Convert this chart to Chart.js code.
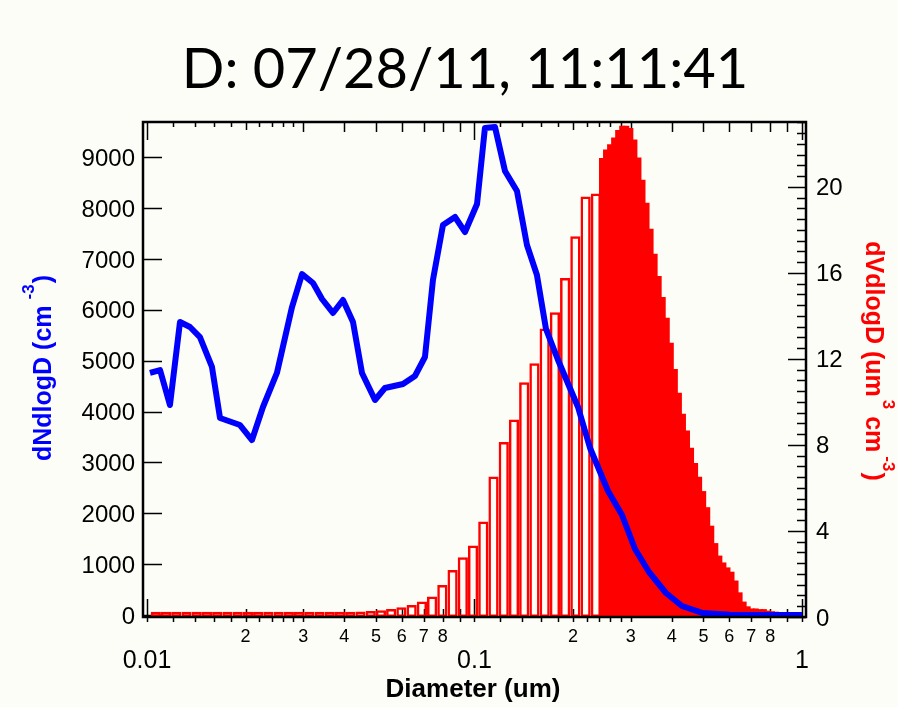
<!DOCTYPE html>
<html>
<head>
<meta charset="utf-8">
<title>D: 07/28/11, 11:11:41</title>
<script src="https://cdn.jsdelivr.net/npm/chart.js@4.4.1/dist/chart.umd.min.js"></script>
<style>
  html, body { margin: 0; padding: 0; background: #fdfdf7; }
  canvas { display: block; }
</style>
</head>
<body>
<canvas id="sizeChart" width="898" height="707"></canvas>
<script>
// number distribution, dN/dlogD (cm-3), blue trace on the left axis
const numDiam = [
  0.01021, 0.01096, 0.01175, 0.01261, 0.01353, 0.01451, 0.01579, 0.01671, 0.01923, 0.02092,
  0.02260, 0.02493, 0.02772, 0.02974, 0.03213, 0.03423, 0.03697, 0.03967, 0.04256, 0.04534,
  0.04968, 0.05328, 0.06048, 0.06580, 0.07059, 0.07467, 0.08012, 0.08719, 0.09354, 0.1018,
  0.1076, 0.1155, 0.1239, 0.1348, 0.1446, 0.1551, 0.1653, 0.1799, 0.2070, 0.2253,
  0.2557, 0.2821, 0.3091, 0.3410, 0.3843, 0.4300, 0.4984, 0.6027, 1.0
];
const numConc = [
  4759, 4817, 4129, 5761, 5663, 5466, 4877, 3874, 3736, 3441,
  4090, 4759, 6056, 6705, 6528, 6214, 5939, 6194, 5761, 4759,
  4228, 4464, 4543, 4700, 5073, 6587, 7669, 7826, 7531, 8081,
  9576, 9596, 8731, 8337, 7275, 6685, 5624, 5014, 4090, 3284,
  2438, 1966, 1298, 846, 433, 177, 39, 5, 0
];

// volume distribution, dV/dlogD (um3 cm-3), small-size bins (open bars)
const volDiamSmall = [
  0.010639, 0.011433, 0.012286, 0.013203, 0.014188, 0.015246, 0.016383, 0.017605, 0.018919, 0.020330,
  0.021847, 0.023477, 0.025228, 0.027110, 0.029132, 0.031306, 0.033641, 0.036151, 0.038848, 0.041746,
  0.044860, 0.048207, 0.051803, 0.055668, 0.059820, 0.064283, 0.069079, 0.074232, 0.079770, 0.085721,
  0.092116, 0.098988, 0.106372, 0.114308, 0.122835, 0.131999, 0.141846, 0.152428, 0.163799, 0.176018,
  0.189149, 0.203260, 0.218423, 0.234717
];
const volSmall = [
  0.24, 0.24, 0.24, 0.24, 0.24, 0.24, 0.24, 0.24, 0.24, 0.24,
  0.24, 0.24, 0.24, 0.24, 0.24, 0.24, 0.24, 0.24, 0.24, 0.24,
  0.26, 0.28, 0.31, 0.37, 0.45, 0.56, 0.72, 0.95, 1.49, 2.19,
  2.78, 3.33, 4.44, 6.53, 8.14, 9.19, 10.92, 11.80, 13.42, 14.17,
  15.76, 17.71, 19.55, 19.70
];

// volume distribution, large-size bins (solid bars)
const volDiamLarge = [
  0.24511, 0.25218, 0.25946, 0.26694, 0.27464, 0.28257, 0.29072, 0.29911, 0.30774, 0.31662,
  0.32575, 0.33515, 0.34482, 0.35477, 0.36500, 0.37553, 0.38637, 0.39752, 0.40899, 0.42079,
  0.43293, 0.44542, 0.45827, 0.47149, 0.48509, 0.49909, 0.51349, 0.52830, 0.54354, 0.55922,
  0.57536, 0.59196, 0.60904, 0.62661, 0.64469, 0.66329, 0.68242, 0.70211, 0.72237, 0.74321,
  0.76465, 0.78671, 0.80941, 0.83276, 0.85679, 0.88151, 0.90694, 0.93311, 0.96003
];
const volLarge = [
  21.30, 21.70, 21.94, 22.25, 22.60, 22.80, 22.80, 22.69, 22.16, 21.32,
  20.29, 19.22, 18.01, 16.85, 15.81, 14.84, 13.87, 12.71, 11.49, 10.38,
  9.40, 8.63, 7.82, 7.12, 6.48, 5.81, 5.06, 4.20, 3.39, 2.81,
  2.49, 2.26, 2.06, 1.65, 1.10, 0.67, 0.45, 0.35, 0.35, 0.32,
  0.32, 0.25, 0.22, 0.20, 0.18, 0.16, 0.15, 0.14, 0.13
];

// axis labels
const xMajorTicks = [0.01, 0.1, 1];
const xMajorLabels = ['0.01', '0.1', '1'];
const xMinorDigits = [2, 3, 4, 5, 6, 7, 8];
const leftTicks = [0, 1000, 2000, 3000, 4000, 5000, 6000, 7000, 8000, 9000];
const rightTicks = [0, 4, 8, 12, 16, 20];

const PAGE_BG = '#fdfdf7';
const BLUE = '#0000ff';
const RED = '#ff0000';
const SANS = '"Liberation Sans", Arial, sans-serif';

const X_MIN = 0.009723;
const X_MAX = 1.0285;

function pairs(xs, ys) {
  return xs.map((x, i) => ({ x: x, y: ys[i] }));
}

// the bar axes only place bars, keep their tick list out of the width calc
function logAxis() {
  return {
    type: 'logarithmic',
    position: 'bottom',
    min: X_MIN,
    max: X_MAX,
    offset: false,
    display: false,
    afterBuildTicks: function (scale) {
      scale.ticks = [{ value: X_MIN }, { value: X_MAX }];
    }
  };
}

function logTickMarks() {
  const marks = [];
  [0.01, 0.1].forEach(function (dec) {
    marks.push({ v: dec, kind: 'major' });
    for (let m = 2; m <= 9; m++) marks.push({ v: dec * m, kind: m === 2 ? 'two' : 'minor' });
    [1.2, 1.4, 1.6, 1.8, 2.2, 2.4, 2.6, 2.8].forEach(function (m) {
      marks.push({ v: dec * m, kind: 'sub' });
    });
  });
  marks.push({ v: 1, kind: 'major' });
  return marks;
}

function drawRichText(c, parts, x, y, angle, color) {
  c.save();
  c.translate(x, y);
  c.rotate(angle);
  c.fillStyle = color;
  c.textBaseline = 'alphabetic';
  c.textAlign = 'left';
  let total = 0;
  parts.forEach(function (p) {
    c.font = p.font;
    total += c.measureText(p.text).width + (p.gap || 0);
  });
  let cx = -total / 2;
  parts.forEach(function (p) {
    c.font = p.font;
    cx += p.gap || 0;
    c.fillText(p.text, cx, -(p.rise || 0));
    cx += c.measureText(p.text).width;
  });
  c.restore();
}

const frameAndLabels = {
  id: 'frameAndLabels',
  beforeDraw(chart) {
    const c = chart.ctx;
    c.save();
    c.fillStyle = PAGE_BG;
    c.fillRect(0, 0, chart.width, chart.height);
    c.restore();
  },
  // tick marks sit under the data, pointing into the plot
  beforeDatasetsDraw(chart) {
    const c = chart.ctx;
    const a = chart.chartArea;
    const sx = chart.scales.x;
    const sy = chart.scales.y;
    const sr = chart.scales.y2;

    c.save();
    c.strokeStyle = '#000';
    c.lineCap = 'butt';
    c.lineWidth = 1.5;
    c.beginPath();
    const topLen = { major: 18, two: 8, minor: 10, sub: 5 };
    const botLen = { major: 18, two: 8, minor: 8, sub: 0 };
    logTickMarks().forEach(function (t) {
      const px = Math.round(sx.getPixelForValue(t.v)) + 0.5;
      c.moveTo(px, a.top);
      c.lineTo(px, a.top + topLen[t.kind]);
      c.moveTo(px, a.bottom + 5);
      c.lineTo(px, a.bottom - botLen[t.kind]);
    });
    leftTicks.forEach(function (v) {
      const py = Math.round(sy.getPixelForValue(v)) + 0.5;
      c.moveTo(a.left, py);
      c.lineTo(a.left + 19, py);
    });
    for (let i = 0; i * 0.5 <= sr.max; i++) {
      const v = i * 0.5;
      const py = Math.round(sr.getPixelForValue(v)) + 0.5;
      c.moveTo(a.right, py);
      c.lineTo(a.right - (v % 4 === 0 ? 18 : 9), py);
    }
    c.stroke();
    c.restore();
  },
  afterDraw(chart) {
    const c = chart.ctx;
    const a = chart.chartArea;
    const sx = chart.scales.x;
    const sy = chart.scales.y;
    const sr = chart.scales.y2;

    c.save();
    // plot frame
    c.strokeStyle = '#000';
    c.lineWidth = 2.5;
    c.strokeRect(a.left, a.top, a.right - a.left, a.bottom - a.top);

    // tick labels
    c.fillStyle = '#000';
    c.textBaseline = 'alphabetic';
    c.font = '24px ' + SANS;
    c.textAlign = 'right';
    leftTicks.forEach(function (v) {
      c.fillText(String(v), 135, sy.getPixelForValue(v) + 8.5);
    });
    c.textAlign = 'left';
    rightTicks.forEach(function (v) {
      c.fillText(String(v), 816, sr.getPixelForValue(v) + 8.5);
    });
    c.textAlign = 'center';
    c.font = '25px ' + SANS;
    xMajorTicks.forEach(function (v, i) {
      c.fillText(xMajorLabels[i], sx.getPixelForValue(v), 668);
    });
    c.font = '18px ' + SANS;
    [0.01, 0.1].forEach(function (dec) {
      xMinorDigits.forEach(function (m) {
        c.fillText(String(m), sx.getPixelForValue(dec * m), 642);
      });
    });

    // axis titles
    c.font = 'bold 26px ' + SANS;
    c.fillText('Diameter (um)', 473, 697);

    const big = 'bold 25px ' + SANS;
    const small = 'bold 17px ' + SANS;
    drawRichText(c, [
      { text: 'dNdlogD (cm', font: big },
      { text: '-3', font: small, rise: 17, gap: 6 },
      { text: ')', font: big, gap: 1 }
    ], 51, 368, -Math.PI / 2, BLUE);
    drawRichText(c, [
      { text: 'dVdlogD (um', font: big },
      { text: '3', font: small, rise: 17, gap: 3 },
      { text: ' cm', font: big },
      { text: '-3', font: small, rise: 17, gap: 4 },
      { text: ')', font: big, gap: 1 }
    ], 866, 361, Math.PI / 2, RED);

    // heading
    c.fillStyle = '#000';
    c.font = '56px Lato, "Open Sans", sans-serif';
    c.textAlign = 'center';
    c.fillText('D: 07/28/11, 11:11:41', 465, 88);
    c.restore();
  }
};

const ctx = document.getElementById('sizeChart').getContext('2d');
const sizeChart = new Chart(ctx, {
  type: 'line',
  data: {
    datasets: [
      {
        type: 'line',
        label: 'dNdlogD',
        data: pairs(numDiam, numConc),
        xAxisID: 'x',
        yAxisID: 'y',
        borderColor: BLUE,
        borderWidth: 6,
        borderJoinStyle: 'round',
        borderCapStyle: 'butt',
        pointRadius: 0,
        tension: 0,
        fill: false,
        order: 0
      },
      {
        type: 'bar',
        label: 'dVdlogD large',
        data: pairs(volDiamLarge, volLarge),
        xAxisID: 'xLarge',
        yAxisID: 'y2',
        backgroundColor: RED,
        borderWidth: 0,
        inflateAmount: 1,
        barPercentage: 1,
        categoryPercentage: 1,
        grouped: false,
        order: 1
      },
      {
        type: 'bar',
        label: 'dVdlogD small',
        data: pairs(volDiamSmall, volSmall),
        xAxisID: 'xSmall',
        yAxisID: 'y2',
        backgroundColor: 'rgba(0,0,0,0)',
        borderColor: RED,
        borderWidth: 2.5,
        borderSkipped: false,
        inflateAmount: 0,
        barPercentage: 1,
        categoryPercentage: 1,
        grouped: false,
        order: 2
      }
    ]
  },
  options: {
    responsive: false,
    animation: false,
    devicePixelRatio: 1,
    layout: { padding: { left: 143, right: 92, top: 122, bottom: 90 } },
    plugins: {
      legend: { display: false },
      tooltip: { enabled: false },
      title: { display: false }
    },
    scales: {
      x: { type: 'logarithmic', position: 'bottom', min: X_MIN, max: X_MAX, display: false },
      xSmall: logAxis(),
      xLarge: logAxis(),
      y: { type: 'linear', position: 'left', min: -39, max: 9694, display: false },
      y2: { type: 'linear', position: 'right', min: 0, max: 23.02, display: false }
    }
  },
  plugins: [frameAndLabels]
});
</script>
</body>
</html>
